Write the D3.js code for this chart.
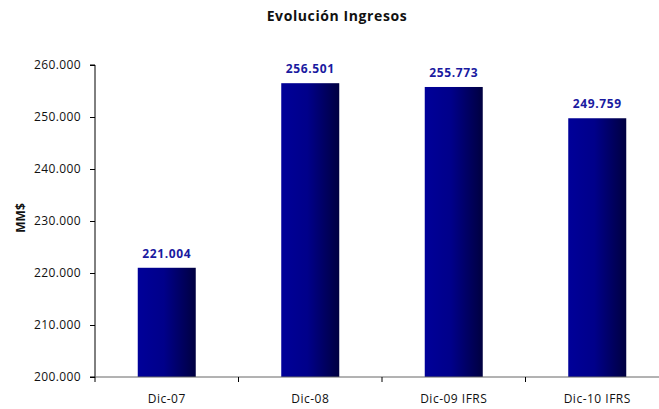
<!DOCTYPE html>
<html><head><meta charset="utf-8">
<script src="https://cdn.jsdelivr.net/npm/d3@7"></script>
<style>body{margin:0;background:#fff}svg{display:block}text{font-family:"Open Sans",sans-serif}</style>
</head><body><svg id="c" width="659" height="409"></svg>
<script>
const categories = ["Dic-07","Dic-08","Dic-09 IFRS","Dic-10 IFRS"];
const values = [221004,256501,255773,249759];
const valueLabels = ["221.004","256.501","255.773","249.759"];
const yTicks = [200000,210000,220000,230000,240000,250000,260000];

(function(){
const svg = d3.select("#c");
const pLeft = 95, pRight = 669, pTop = 65, pBottom = 377;
const xb = d3.scaleBand().domain(categories).range([pLeft,pRight]);
const y = d3.scaleLinear().domain([200000,260000]).range([pBottom,pTop]);

const defs = svg.append("defs");
const g = defs.append("linearGradient").attr("id","bg").attr("x1","0").attr("x2","1").attr("y1","0").attr("y2","0");
g.append("stop").attr("offset","0").attr("stop-color","#000099");
g.append("stop").attr("offset","0.45").attr("stop-color","#00008a");
g.append("stop").attr("offset","1").attr("stop-color","#000040");

svg.append("text").attr("x",337).attr("y",21).attr("text-anchor","middle")
  .attr("font-size",14).attr("font-weight","bold").attr("letter-spacing",0.6).attr("fill","#111").text("Evolución Ingresos");

const bw = 58;
svg.selectAll("rect.bar").data(values).join("rect").attr("class","bar")
  .attr("x",(d,i)=>xb(categories[i])+xb.bandwidth()/2-bw/2)
  .attr("width",bw)
  .attr("y",d=>y(d)).attr("height",d=>pBottom-y(d))
  .attr("fill","url(#bg)");

svg.selectAll("text.val").data(values).join("text").attr("class","val")
  .attr("x",(d,i)=>xb(categories[i])+xb.bandwidth()/2)
  .attr("y",d=>y(d)-10).attr("text-anchor","middle")
  .attr("font-size",12).attr("font-weight","bold").attr("letter-spacing",0.6).attr("fill","#1a1aa0")
  .text((d,i)=>valueLabels[i]);

const yAxis = d3.axisLeft(y).tickValues(yTicks).tickSize(5).tickPadding(9)
  .tickFormat(v=>d3.format(".3f")(v/1000));
const ya = svg.append("g").attr("transform",`translate(${pLeft},0)`).call(yAxis);
ya.select(".domain").attr("stroke","#000").attr("d",`M-5,${pTop}H0V${pBottom}H-5`);
ya.selectAll("text").attr("font-size",12).attr("letter-spacing",0.4).attr("fill","#111").style("font-family","'Open Sans',sans-serif");

const xa = svg.append("g").attr("transform",`translate(0,${pBottom})`);
xa.append("line").attr("x1",pLeft).attr("x2",pRight).attr("y1",0).attr("y2",0).attr("stroke","#666");
xa.selectAll("line.t").data(categories).join("line").attr("class","t")
  .attr("x1",d=>xb(d)).attr("x2",d=>xb(d)).attr("y1",0).attr("y2",5).attr("stroke","#000");
xa.selectAll("text").data(categories).join("text")
  .attr("x",d=>xb(d)+xb.bandwidth()/2).attr("y",26).attr("text-anchor","middle")
  .attr("font-size",12).attr("letter-spacing",0.5).attr("fill","#111").text(d=>d);

svg.append("text").attr("transform","translate(25,218) rotate(-90)").attr("text-anchor","middle")
  .attr("font-size",12).attr("font-weight","bold").attr("fill","#111").text("MM$");
})();
</script></body></html>
